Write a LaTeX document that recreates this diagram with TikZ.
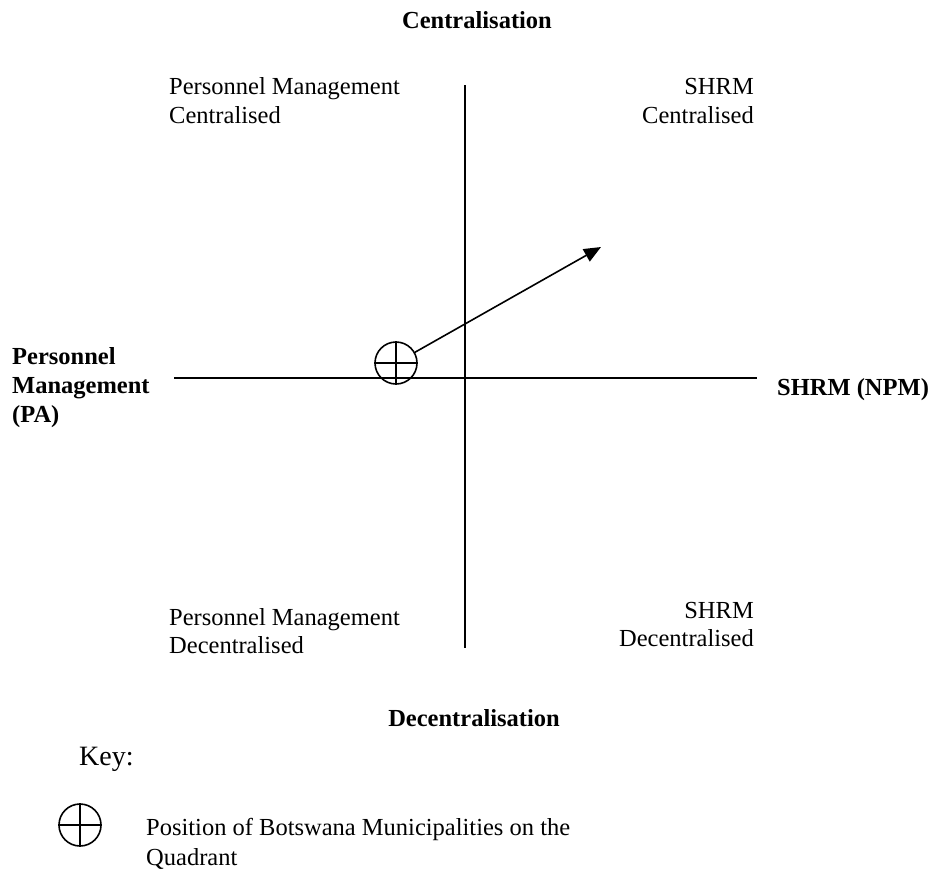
\documentclass[tikz,border=0pt]{standalone}
\usepackage{fontspec}
\setmainfont{Liberation Serif}
\usetikzlibrary{arrows.meta}
\tikzset{
  lbl/.style={inner sep=0pt, font=\fontsize{24.5}{29}\selectfont},
  blbl/.style={inner sep=0pt, font=\fontsize{24.5}{29}\selectfont\bfseries},
  axisline/.style={line width=1.6pt},
  posmark/.style={circle, draw, line width=1.6pt, minimum size=42pt, inner sep=0pt},
}
\begin{document}
\begin{tikzpicture}[x=1pt,y=-1pt]
\useasboundingbox (0,0) rectangle (934,871);
% axes
\coordinate (vtop) at (465,85);
\coordinate (vbot) at (465,648);
\coordinate (hl) at (174,378);
\coordinate (hr) at (757,378);
\draw[axisline] (vtop) -- (vbot);
\draw[axisline] (hl) -- (hr);
% position marker
\node[posmark] (pos) at (396,363) {};
\draw[axisline] (pos.north) -- (pos.south);
\draw[axisline] (pos.west) -- (pos.east);
\coordinate (tip) at (601,247);
\draw[axisline, -{Triangle[length=17pt,width=14pt]}] (pos) -- (tip);
% axis labels
\node[blbl, anchor=base] (cen) at (477,28) {Centralisation};
\node[blbl, anchor=base] (dec) at (474,726) {Decentralisation};
\node[blbl, anchor=base west] (pm1) at (12,364) {Personnel};
\node[blbl, anchor=base west] (pm2) at (12,393) {Management};
\node[blbl, anchor=base west] (pm3) at (12,422) {(PA)};
\node[blbl, anchor=base west] (shrm) at (777,395) {SHRM (NPM)};
% quadrant labels
\node[lbl, anchor=base west] (q1a) at (169,94) {Personnel Management};
\node[lbl, anchor=base west] (q1b) at (169,123) {Centralised};
\node[lbl, anchor=base east] (q2a) at (754,94) {SHRM};
\node[lbl, anchor=base east] (q2b) at (754,123) {Centralised};
\node[lbl, anchor=base west] (q3a) at (169,625) {Personnel Management};
\node[lbl, anchor=base west] (q3b) at (169,653) {Decentralised};
\node[lbl, anchor=base east] (q4a) at (754,618) {SHRM};
\node[lbl, anchor=base east] (q4b) at (754,646) {Decentralised};
% key
\node[inner sep=0pt, font=\fontsize{28}{32}\selectfont, anchor=base west] (key) at (79,765) {Key:};
\node[posmark] (kpos) at (80,825) {};
\draw[axisline] (kpos.north) -- (kpos.south);
\draw[axisline] (kpos.west) -- (kpos.east);
\node[lbl, anchor=base west] (k1) at (146,835) {Position of Botswana Municipalities on the};
\node[lbl, anchor=base west] (k2) at (146,865) {Quadrant};
\end{tikzpicture}
\end{document}
